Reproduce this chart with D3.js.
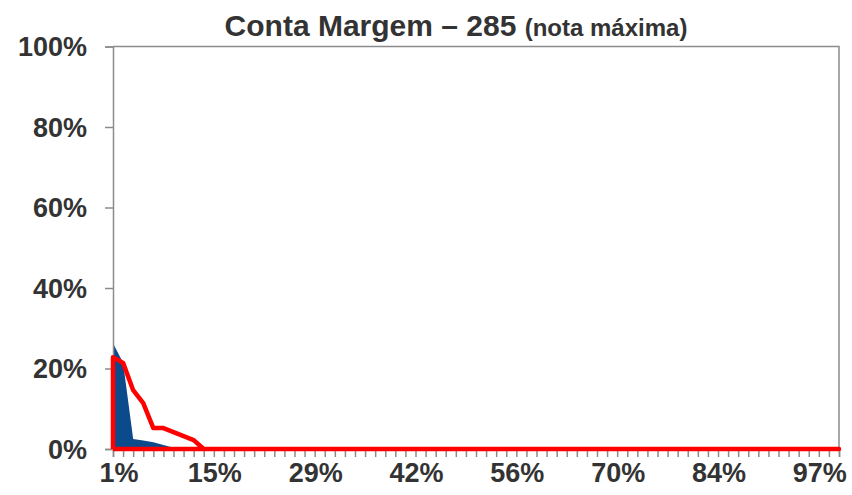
<!DOCTYPE html>
<html>
<head>
<meta charset="utf-8">
<script src="https://cdn.jsdelivr.net/npm/d3@7"></script>
<style>
  body { margin: 0; background: #fff; }
  text { font-family: "Liberation Sans", Arial, sans-serif; font-weight: bold; fill: #333; }
</style>
</head>
<body>
<svg width="852" height="495"></svg>
<script>
// categories: 73 points along the x axis (share of max score)
const categories = d3.range(73);
const xTickIndex = [0, 10, 20, 30, 40, 50, 60, 70];
const xTickLabels = ["1%", "15%", "29%", "42%", "56%", "70%", "84%", "97%"];
const yTicks = [0, 20, 40, 60, 80, 100];

// blue area series (%)
const blueValues = [26.3, 21.4, 2.5, 2.1, 1.7, 1.0, 0.3, 0, 0, 0,
  0, 0, 0, 0, 0, 0, 0, 0, 0, 0,
  0, 0, 0, 0, 0, 0, 0, 0, 0, 0,
  0, 0, 0, 0, 0, 0, 0, 0, 0, 0,
  0, 0, 0, 0, 0, 0, 0, 0, 0, 0,
  0, 0, 0, 0, 0, 0, 0, 0, 0, 0,
  0, 0, 0, 0, 0, 0, 0, 0, 0, 0,
  0, 0, 0];
// red outline series (%)
const redValues = [22.8, 21.4, 14.6, 11.4, 5.2, 5.2, 4.2, 3.2, 2.2, 0,
  0, 0, 0, 0, 0, 0, 0, 0, 0, 0,
  0, 0, 0, 0, 0, 0, 0, 0, 0, 0,
  0, 0, 0, 0, 0, 0, 0, 0, 0, 0,
  0, 0, 0, 0, 0, 0, 0, 0, 0, 0,
  0, 0, 0, 0, 0, 0, 0, 0, 0, 0,
  0, 0, 0, 0, 0, 0, 0, 0, 0, 0,
  0, 0, 0];

const svg = d3.select("svg");
const plotLeft = 113, plotRight = 839, plotTop = 46.5, plotBottom = 449;
const axisColor = "#8c8c8c";

const x = d3.scalePoint().domain(categories).range([plotLeft, plotRight]);
const y = d3.scaleLinear().domain([0, 100]).range([plotBottom, plotTop]);

//TITLE
const title = svg.append("text")
   .attr("x", 456)
   .attr("y", 36)
   .attr("text-anchor", "middle");
title.append("tspan").attr("font-size", "30px").text("Conta Margem – 285 ");
title.append("tspan").attr("font-size", "24px").text("(nota máxima)");

//PLOT BORDER (top and right)
svg.append("path")
   .attr("d", `M${plotLeft},${plotTop}H${plotRight}V${plotBottom}`)
   .attr("fill", "none")
   .attr("stroke", axisColor)
   .attr("stroke-width", 1.5);

//BLUE AREA
const area = d3.area()
   .x((d, i) => x(i))
   .y0(y(0))
   .y1(d => y(d));
svg.append("path")
   .datum(blueValues)
   .attr("d", area)
   .attr("fill", "#0b4a8b");

//Y AXIS
const yAxis = svg.append("g")
   .attr("transform", `translate(${plotLeft},0)`)
   .call(d3.axisLeft(y).tickValues(yTicks).tickSize(8).tickPadding(18).tickFormat(d => d + "%"));
yAxis.select(".domain").attr("stroke", axisColor).attr("stroke-width", 1.5);
yAxis.selectAll(".tick line").attr("stroke", axisColor).attr("stroke-width", 1.5);
yAxis.selectAll(".tick text").attr("font-size", "27px").attr("dy", "0.35em");

//X AXIS
const xAxis = svg.append("g")
   .attr("transform", `translate(0,${plotBottom})`)
   .call(d3.axisBottom(x).tickSize(8).tickFormat(""));
xAxis.select(".domain").attr("stroke", axisColor).attr("stroke-width", 1.5);
xAxis.selectAll(".tick line").attr("stroke", axisColor).attr("stroke-width", 1.5);

svg.append("g")
   .selectAll("text")
   .data(xTickIndex)
   .join("text")
   .attr("x", d => x(d) + (d === 0 ? 6 : 1))
   .attr("y", 482)
   .attr("text-anchor", "middle")
   .attr("font-size", "27px")
   .text((d, i) => xTickLabels[i]);

//RED OUTLINE (area border, no fill)
const outline = d3.line()
   .x(d => d[0])
   .y(d => d[1]);
const redPts = [[x(0), y(0)]]
   .concat(redValues.map((v, i) => [x(i), y(v)]))
   .concat([[x(categories.length - 1), y(0)], [x(0), y(0)]]);
svg.append("path")
   .datum(redPts)
   .attr("d", outline)
   .attr("fill", "none")
   .attr("stroke", "#ff0000")
   .attr("stroke-width", 4.5)
   .attr("stroke-linejoin", "round");
</script>
</body>
</html>
